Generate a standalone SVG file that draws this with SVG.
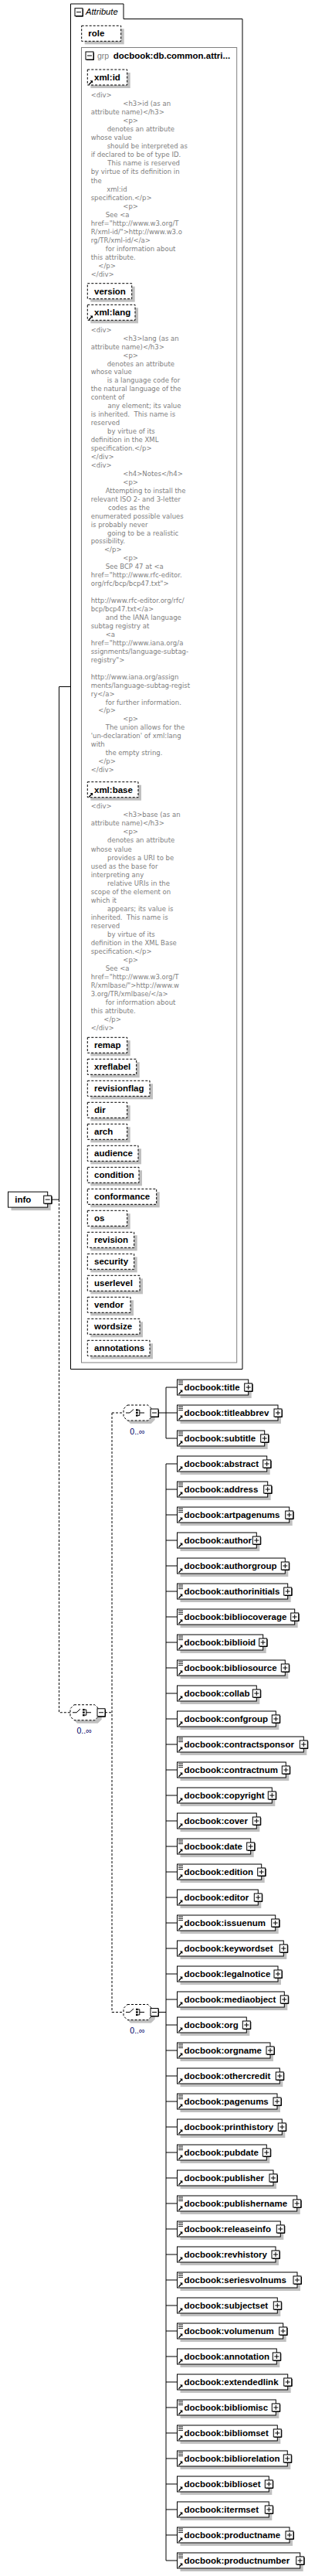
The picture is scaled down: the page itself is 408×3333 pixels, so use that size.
<svg xmlns="http://www.w3.org/2000/svg" width="408" height="3333" viewBox="0 0 408 3333">
<style>
.sh{fill:#c0c0c0}
.bx{fill:#fff;stroke:#000}
.dx{fill:#fff;stroke:#000;stroke-dasharray:3 2}
.lb{font-family:'Liberation Sans',Arial,sans-serif;font-weight:bold;font-size:11.5px;fill:#000}
.doc{font-family:'DejaVu Sans',Verdana,sans-serif;font-size:8.5px;fill:#808080}
.occ{font-family:'Liberation Sans',Arial,sans-serif;font-size:10.5px;fill:#000066}
.cn{fill:none;stroke:#000}
.cd{fill:none;stroke:#000;stroke-dasharray:3 2}
</style>
<defs>
<g id="pl"><rect x="-5" y="-5" width="10" height="10" fill="#fff" stroke="#000"/><path d="M-4,5.5H5.5V-4" fill="none" stroke="#000"/><path d="M-3,0H3M0,-3V3" stroke="#000"/></g>
<g id="mi"><rect x="-5" y="-5" width="10" height="10" fill="#fff" stroke="#000"/><path d="M-4,5.5H5.5V-4" fill="none" stroke="#000"/><path d="M-3,0H3" stroke="#000"/></g>
<path id="tx" d="M0,0.5H6M0,2.8H6M0,5.1H6" stroke="#000" stroke-width="0.9"/>
<g id="ar"><path d="M0.5,5.5L4,2" stroke="#000" stroke-width="1.3"/><path d="M2,0.3H5.5V3.8Z" fill="#000"/></g>
<g id="chc">
<polygon class="sh" points="9,4 35.7,4 40.7,9 40.7,19 35.7,24 9,24 4,19 4,9"/>
<polygon class="dx" points="5,0 31.7,0 36.7,5 36.7,15 31.7,20 5,20 0,15 0,5"/>
<path d="M3,10H8L13,5.5" fill="none" stroke="#000"/>
<rect x="16" y="5.3" width="2.7" height="2.3"/><rect x="16" y="8.8" width="2.7" height="2.3"/><rect x="16" y="12.3" width="2.7" height="2.3"/>
<path d="M18.7,6.4H20.8M18.7,13.4H20.8M20.8,6.4V13.4M20.8,10H27" fill="none" stroke="#000"/>
<use href="#mi" x="40" y="10"/>
</g>
</defs>

<g id="connectors">
<path class="cn" d="M66.2,1552.1H76.5V888.5H91.5"/>
<path class="cd" d="M76.5,1552.1V2215.75H91"/>
<path class="cd" d="M136,2215.75H145M145,1828V2603.5M145,1828H160M145,2603.5H160"/>
<path class="cn" d="M205,1828H215M215,1795V1861M215,1795H229.5M215,1828H229.5M215,1861H229.5"/>
<path class="cn" d="M205,2603.5H215M215,1894V3313M215,1894H229.5M215,1927H229.5M215,1960H229.5M215,1993H229.5M215,2026H229.5M215,2059H229.5M215,2092H229.5M215,2125H229.5M215,2158H229.5M215,2191H229.5M215,2224H229.5M215,2257H229.5M215,2290H229.5M215,2323H229.5M215,2356H229.5M215,2389H229.5M215,2422H229.5M215,2455H229.5M215,2488H229.5M215,2521H229.5M215,2554H229.5M215,2587H229.5M215,2620H229.5M215,2653H229.5M215,2686H229.5M215,2719H229.5M215,2752H229.5M215,2785H229.5M215,2818H229.5M215,2851H229.5M215,2884H229.5M215,2917H229.5M215,2950H229.5M215,2983H229.5M215,3016H229.5M215,3049H229.5M215,3082H229.5M215,3115H229.5M215,3148H229.5M215,3181H229.5M215,3214H229.5M215,3247H229.5M215,3280H229.5M215,3313H229.5"/>
</g>

<g id="info" transform="translate(10.5,1542.1)">
<rect class="sh" x="4" y="4" width="51.2" height="20"/>
<rect class="bx" width="51.2" height="20"/>
<text class="lb" x="8.8" y="14">info</text>
<use href="#mi" x="51.2" y="10"/>
</g>

<g id="attributes">
<path class="cn" d="M91.5,5H160V24.5H314V1771.5H91.5Z"/>
<use href="#mi" x="102" y="15.7"/>
<text x="111" y="19" style="font-family:'Liberation Sans',Arial,sans-serif;font-style:italic;font-size:11.2px;fill:#000">Attribute</text>
</g>

<g id="a-role" transform="translate(105.7,33.3)"><rect class="sh" x="4" y="4" width="51" height="20"/><rect class="dx" width="51" height="20"/><text class="lb" x="8.6" y="14">role</text></g>

<g id="grp">
<rect x="105.5" y="61.5" width="201.2" height="1701.5" fill="none" stroke="#808080"/>
<use href="#mi" x="116" y="72"/>
<text x="126" y="75.5" style="font-family:'Liberation Sans',Arial,sans-serif;font-size:10.5px;fill:#808080">grp</text>
<text class="lb" x="146.7" y="75.5">docbook:db.common.attri...</text>
</g>

<g id="a-xmlid" transform="translate(113.3,90)"><rect class="sh" x="4" y="4" width="51.4" height="20"/><rect class="dx" width="51.4" height="20"/><use href="#ar" x="1.3" y="14"/><text class="lb" x="8.7" y="14">xml:id</text></g>
<text id="doc-xmlid" class="doc">
<tspan x="117.7" y="125.8">&lt;div&gt;</tspan>
<tspan x="159.3" y="136.9">&lt;h3&gt;id (as an</tspan>
<tspan x="117.7" y="147.9">attribute name)&lt;/h3&gt;</tspan>
<tspan x="159.3" y="159">&lt;p&gt;</tspan>
<tspan x="138.7" y="170.1">denotes an attribute</tspan>
<tspan x="117.7" y="181.2">whose value</tspan>
<tspan x="138.7" y="192.2">should be interpreted as</tspan>
<tspan x="117.7" y="203.3">if declared to be of type ID.</tspan>
<tspan x="139.3" y="214.4">This name is reserved</tspan>
<tspan x="117.7" y="225.4">by virtue of its definition in</tspan>
<tspan x="117.7" y="236.5">the</tspan>
<tspan x="138.3" y="247.6">xml:id</tspan>
<tspan x="117.7" y="258.6">specification.&lt;/p&gt;</tspan>
<tspan x="159.3" y="269.7">&lt;p&gt;</tspan>
<tspan x="136.7" y="280.8">See &lt;a</tspan>
<tspan x="117.7" y="291.9">href="http://www.w3.org/T</tspan>
<tspan x="117.7" y="302.9">R/xml-id/"&gt;http://www.w3.o</tspan>
<tspan x="117.7" y="314">rg/TR/xml-id/&lt;/a&gt;</tspan>
<tspan x="136.7" y="325.1">for information about</tspan>
<tspan x="117.7" y="336.1">this attribute.</tspan>
<tspan x="127.3" y="347.2">&lt;/p&gt;</tspan>
<tspan x="117.7" y="358.3">&lt;/div&gt;</tspan>
</text>

<g id="a-version" transform="translate(113.3,366.7)"><rect class="sh" x="4" y="4" width="57.4" height="20"/><rect class="dx" width="57.4" height="20"/><text class="lb" x="8.7" y="14">version</text></g>
<g id="a-xmllang" transform="translate(113.3,394.3)"><rect class="sh" x="4" y="4" width="61.7" height="20"/><rect class="dx" width="61.7" height="20"/><use href="#ar" x="1.3" y="14"/><text class="lb" x="8.7" y="14">xml:lang</text></g>
<text id="doc-xmllang" class="doc">
<tspan x="117.7" y="429.7">&lt;div&gt;</tspan>
<tspan x="159.3" y="440.65">&lt;h3&gt;lang (as an</tspan>
<tspan x="117.7" y="451.6">attribute name)&lt;/h3&gt;</tspan>
<tspan x="159.3" y="462.55">&lt;p&gt;</tspan>
<tspan x="138.7" y="473.5">denotes an attribute</tspan>
<tspan x="117.7" y="484.45">whose value</tspan>
<tspan x="138.7" y="495.4">is a language code for</tspan>
<tspan x="117.7" y="506.35">the natural language of the</tspan>
<tspan x="117.7" y="517.3">content of</tspan>
<tspan x="139.5" y="528.25">any element; its value</tspan>
<tspan x="117.7" y="539.2">is inherited.&#160; This name is</tspan>
<tspan x="117.7" y="550.15">reserved</tspan>
<tspan x="139" y="561.1">by virtue of its</tspan>
<tspan x="117.7" y="572.05">definition in the XML</tspan>
<tspan x="117.7" y="583">specification.&lt;/p&gt;</tspan>
<tspan x="117.7" y="593.95">&lt;/div&gt;</tspan>
<tspan x="117.7" y="604.9">&lt;div&gt;</tspan>
<tspan x="159.3" y="615.85">&lt;h4&gt;Notes&lt;/h4&gt;</tspan>
<tspan x="159.3" y="626.8">&lt;p&gt;</tspan>
<tspan x="136.7" y="637.75">Attempting to install the</tspan>
<tspan x="117.7" y="648.7">relevant ISO 2- and 3-letter</tspan>
<tspan x="140" y="659.65">codes as the</tspan>
<tspan x="117.7" y="670.6">enumerated possible values</tspan>
<tspan x="117.7" y="681.55">is probably never</tspan>
<tspan x="139" y="692.5">going to be a realistic</tspan>
<tspan x="117.7" y="703.45">possibility.</tspan>
<tspan x="135" y="714.4">&lt;/p&gt;</tspan>
<tspan x="159.3" y="725.35">&lt;p&gt;</tspan>
<tspan x="136.7" y="736.3">See BCP 47 at &lt;a</tspan>
<tspan x="117.7" y="747.25">href="http://www.rfc-editor.</tspan>
<tspan x="117.7" y="758.2">org/rfc/bcp/bcp47.txt"&gt;</tspan>
<tspan x="117.7" y="780.1">http://www.rfc-editor.org/rfc/</tspan>
<tspan x="117.7" y="791.05">bcp/bcp47.txt&lt;/a&gt;</tspan>
<tspan x="136.7" y="802">and the IANA language</tspan>
<tspan x="117.7" y="812.95">subtag registry at</tspan>
<tspan x="136.7" y="823.9">&lt;a</tspan>
<tspan x="117.7" y="834.85">href="http://www.iana.org/a</tspan>
<tspan x="117.7" y="845.8">ssignments/language-subtag-</tspan>
<tspan x="117.7" y="856.75">registry"&gt;</tspan>
<tspan x="117.7" y="878.65">http://www.iana.org/assign</tspan>
<tspan x="117.7" y="889.6">ments/language-subtag-regist</tspan>
<tspan x="117.7" y="900.55">ry&lt;/a&gt;</tspan>
<tspan x="136.7" y="911.5">for further information.</tspan>
<tspan x="127.3" y="922.45">&lt;/p&gt;</tspan>
<tspan x="159.3" y="933.4">&lt;p&gt;</tspan>
<tspan x="136.7" y="944.35">The union allows for the</tspan>
<tspan x="117.7" y="955.3">'un-declaration' of xml:lang</tspan>
<tspan x="117.7" y="966.25">with</tspan>
<tspan x="136.7" y="977.2">the empty string.</tspan>
<tspan x="127.3" y="988.15">&lt;/p&gt;</tspan>
<tspan x="117.7" y="999.1">&lt;/div&gt;</tspan>
</text>

<g id="a-xmlbase" transform="translate(113.3,1011.7)"><rect class="sh" x="4" y="4" width="65.7" height="20"/><rect class="dx" width="65.7" height="20"/><use href="#ar" x="1.3" y="14"/><text class="lb" x="8.7" y="14">xml:base</text></g>
<text id="doc-xmlbase" class="doc">
<tspan x="117.7" y="1046.3">&lt;div&gt;</tspan>
<tspan x="159.3" y="1057.3">&lt;h3&gt;base (as an</tspan>
<tspan x="117.7" y="1068.4">attribute name)&lt;/h3&gt;</tspan>
<tspan x="159.3" y="1079.4">&lt;p&gt;</tspan>
<tspan x="139" y="1090.4">denotes an attribute</tspan>
<tspan x="117.7" y="1101.5">whose value</tspan>
<tspan x="139" y="1112.5">provides a URI to be</tspan>
<tspan x="117.7" y="1123.5">used as the base for</tspan>
<tspan x="117.7" y="1134.5">interpreting any</tspan>
<tspan x="139" y="1145.6">relative URIs in the</tspan>
<tspan x="117.7" y="1156.6">scope of the element on</tspan>
<tspan x="117.7" y="1167.6">which it</tspan>
<tspan x="139" y="1178.7">appears; its value is</tspan>
<tspan x="117.7" y="1189.7">inherited.&#160; This name is</tspan>
<tspan x="117.7" y="1200.7">reserved</tspan>
<tspan x="139" y="1211.8">by virtue of its</tspan>
<tspan x="117.7" y="1222.8">definition in the XML Base</tspan>
<tspan x="117.7" y="1233.8">specification.&lt;/p&gt;</tspan>
<tspan x="159.3" y="1244.8">&lt;p&gt;</tspan>
<tspan x="136.7" y="1255.9">See &lt;a</tspan>
<tspan x="117.7" y="1266.9">href="http://www.w3.org/T</tspan>
<tspan x="117.7" y="1277.9">R/xmlbase/"&gt;http://www.w</tspan>
<tspan x="117.7" y="1289">3.org/TR/xmlbase/&lt;/a&gt;</tspan>
<tspan x="136.7" y="1300">for information about</tspan>
<tspan x="117.7" y="1311">this attribute.</tspan>
<tspan x="134.3" y="1322.1">&lt;/p&gt;</tspan>
<tspan x="117.7" y="1333.1">&lt;/div&gt;</tspan>
</text>

<g id="a-remap" transform="translate(113.3,1342.3)"><rect class="sh" x="4" y="4" width="51.4" height="20"/><rect class="dx" width="51.4" height="20"/><text class="lb" x="8.7" y="14">remap</text></g>
<g id="a-xreflabel" transform="translate(113.3,1370.3)"><rect class="sh" x="4" y="4" width="63.4" height="20"/><rect class="dx" width="63.4" height="20"/><text class="lb" x="8.7" y="14">xreflabel</text></g>
<g id="a-revisionflag" transform="translate(113.3,1398.3)"><rect class="sh" x="4" y="4" width="80.7" height="20"/><rect class="dx" width="80.7" height="20"/><text class="lb" x="8.7" y="14">revisionflag</text></g>
<g id="a-dir" transform="translate(113.3,1426.3)"><rect class="sh" x="4" y="4" width="51.4" height="20"/><rect class="dx" width="51.4" height="20"/><text class="lb" x="8.7" y="14">dir</text></g>
<g id="a-arch" transform="translate(113.3,1454.3)"><rect class="sh" x="4" y="4" width="51.4" height="20"/><rect class="dx" width="51.4" height="20"/><text class="lb" x="8.7" y="14">arch</text></g>
<g id="a-audience" transform="translate(113.3,1482.3)"><rect class="sh" x="4" y="4" width="65.7" height="20"/><rect class="dx" width="65.7" height="20"/><text class="lb" x="8.7" y="14">audience</text></g>
<g id="a-condition" transform="translate(113.3,1510.3)"><rect class="sh" x="4" y="4" width="66.7" height="20"/><rect class="dx" width="66.7" height="20"/><text class="lb" x="8.7" y="14">condition</text></g>
<g id="a-conformance" transform="translate(113.3,1538.3)"><rect class="sh" x="4" y="4" width="89.4" height="20"/><rect class="dx" width="89.4" height="20"/><text class="lb" x="8.7" y="14">conformance</text></g>
<g id="a-os" transform="translate(113.3,1566.3)"><rect class="sh" x="4" y="4" width="51.4" height="20"/><rect class="dx" width="51.4" height="20"/><text class="lb" x="8.7" y="14">os</text></g>
<g id="a-revision" transform="translate(113.3,1594.3)"><rect class="sh" x="4" y="4" width="60.4" height="20"/><rect class="dx" width="60.4" height="20"/><text class="lb" x="8.7" y="14">revision</text></g>
<g id="a-security" transform="translate(113.3,1622.3)"><rect class="sh" x="4" y="4" width="60.4" height="20"/><rect class="dx" width="60.4" height="20"/><text class="lb" x="8.7" y="14">security</text></g>
<g id="a-userlevel" transform="translate(113.3,1650.3)"><rect class="sh" x="4" y="4" width="67.7" height="20"/><rect class="dx" width="67.7" height="20"/><text class="lb" x="8.7" y="14">userlevel</text></g>
<g id="a-vendor" transform="translate(113.3,1678.3)"><rect class="sh" x="4" y="4" width="55.7" height="20"/><rect class="dx" width="55.7" height="20"/><text class="lb" x="8.7" y="14">vendor</text></g>
<g id="a-wordsize" transform="translate(113.3,1706.3)"><rect class="sh" x="4" y="4" width="67.7" height="20"/><rect class="dx" width="67.7" height="20"/><text class="lb" x="8.7" y="14">wordsize</text></g>
<g id="a-annotations" transform="translate(113.3,1734.3)"><rect class="sh" x="4" y="4" width="80.7" height="20"/><rect class="dx" width="80.7" height="20"/><text class="lb" x="8.7" y="14">annotations</text></g>

<g id="choice-outer" transform="translate(91,2205.75)"><use href="#chc"/><text class="occ" x="8.5" y="37.5">0..∞</text></g>
<g id="choice-1" transform="translate(160,1818)"><use href="#chc"/><text class="occ" x="8.3" y="38">0..∞</text></g>
<g id="choice-2" transform="translate(160,2593.5)"><use href="#chc"/><text class="occ" x="8.3" y="37.5">0..∞</text></g>

<g id="e-title" transform="translate(229.5,1785)"><rect class="sh" x="4" y="4" width="92.2" height="20"/><rect class="bx" width="92.2" height="20"/><use href="#tx" x="1.5" y="1.5"/><use href="#ar" x="1.4" y="13.3"/><text class="lb" x="9" y="14">docbook:title</text><use href="#pl" x="92.2" y="10"/></g>
<g id="e-titleabbrev" transform="translate(229.5,1818)"><rect class="sh" x="4" y="4" width="130.5" height="20"/><rect class="bx" width="130.5" height="20"/><use href="#tx" x="1.5" y="1.5"/><use href="#ar" x="1.4" y="13.3"/><text class="lb" x="9" y="14">docbook:titleabbrev</text><use href="#pl" x="130.5" y="10"/></g>
<g id="e-subtitle" transform="translate(229.5,1851)"><rect class="sh" x="4" y="4" width="113.2" height="20"/><rect class="bx" width="113.2" height="20"/><use href="#tx" x="1.5" y="1.5"/><use href="#ar" x="1.4" y="13.3"/><text class="lb" x="9" y="14">docbook:subtitle</text><use href="#pl" x="113.2" y="10"/></g>
<g id="e-abstract" transform="translate(229.5,1884)"><rect class="sh" x="4" y="4" width="116.2" height="20"/><rect class="bx" width="116.2" height="20"/><use href="#ar" x="1.4" y="13.3"/><text class="lb" x="9" y="14">docbook:abstract</text><use href="#pl" x="116.2" y="10"/></g>
<g id="e-address" transform="translate(229.5,1917)"><rect class="sh" x="4" y="4" width="117.2" height="20"/><rect class="bx" width="117.2" height="20"/><use href="#tx" x="1.5" y="1.5"/><use href="#ar" x="1.4" y="13.3"/><text class="lb" x="9" y="14">docbook:address</text><use href="#pl" x="117.2" y="10"/></g>
<g id="e-artpagenums" transform="translate(229.5,1950)"><rect class="sh" x="4" y="4" width="145.2" height="20"/><rect class="bx" width="145.2" height="20"/><use href="#tx" x="1.5" y="1.5"/><use href="#ar" x="1.4" y="13.3"/><text class="lb" x="9" y="14">docbook:artpagenums</text><use href="#pl" x="145.2" y="10"/></g>
<g id="e-author" transform="translate(229.5,1983)"><rect class="sh" x="4" y="4" width="102.8" height="20"/><rect class="bx" width="102.8" height="20"/><use href="#ar" x="1.4" y="13.3"/><text class="lb" x="9" y="14">docbook:author</text><use href="#pl" x="102.8" y="10"/></g>
<g id="e-authorgroup" transform="translate(229.5,2016)"><rect class="sh" x="4" y="4" width="139.8" height="20"/><rect class="bx" width="139.8" height="20"/><use href="#ar" x="1.4" y="13.3"/><text class="lb" x="9" y="14">docbook:authorgroup</text><use href="#pl" x="139.8" y="10"/></g>
<g id="e-authorinitials" transform="translate(229.5,2049)"><rect class="sh" x="4" y="4" width="143.2" height="20"/><rect class="bx" width="143.2" height="20"/><use href="#tx" x="1.5" y="1.5"/><use href="#ar" x="1.4" y="13.3"/><text class="lb" x="9" y="14">docbook:authorinitials</text><use href="#pl" x="143.2" y="10"/></g>
<g id="e-bibliocoverage" transform="translate(229.5,2082)"><rect class="sh" x="4" y="4" width="152.2" height="20"/><rect class="bx" width="152.2" height="20"/><use href="#tx" x="1.5" y="1.5"/><use href="#ar" x="1.4" y="13.3"/><text class="lb" x="9" y="14">docbook:bibliocoverage</text><use href="#pl" x="152.2" y="10"/></g>
<g id="e-biblioid" transform="translate(229.5,2115)"><rect class="sh" x="4" y="4" width="111.2" height="20"/><rect class="bx" width="111.2" height="20"/><use href="#tx" x="1.5" y="1.5"/><use href="#ar" x="1.4" y="13.3"/><text class="lb" x="9" y="14">docbook:biblioid</text><use href="#pl" x="111.2" y="10"/></g>
<g id="e-bibliosource" transform="translate(229.5,2148)"><rect class="sh" x="4" y="4" width="139.8" height="20"/><rect class="bx" width="139.8" height="20"/><use href="#tx" x="1.5" y="1.5"/><use href="#ar" x="1.4" y="13.3"/><text class="lb" x="9" y="14">docbook:bibliosource</text><use href="#pl" x="139.8" y="10"/></g>
<g id="e-collab" transform="translate(229.5,2181)"><rect class="sh" x="4" y="4" width="102.8" height="20"/><rect class="bx" width="102.8" height="20"/><use href="#ar" x="1.4" y="13.3"/><text class="lb" x="9" y="14">docbook:collab</text><use href="#pl" x="102.8" y="10"/></g>
<g id="e-confgroup" transform="translate(229.5,2214)"><rect class="sh" x="4" y="4" width="127.8" height="20"/><rect class="bx" width="127.8" height="20"/><use href="#ar" x="1.4" y="13.3"/><text class="lb" x="9" y="14">docbook:confgroup</text><use href="#pl" x="127.8" y="10"/></g>
<g id="e-contractsponsor" transform="translate(229.5,2247)"><rect class="sh" x="4" y="4" width="163.8" height="20"/><rect class="bx" width="163.8" height="20"/><use href="#tx" x="1.5" y="1.5"/><use href="#ar" x="1.4" y="13.3"/><text class="lb" x="9" y="14">docbook:contractsponsor</text><use href="#pl" x="163.8" y="10"/></g>
<g id="e-contractnum" transform="translate(229.5,2280)"><rect class="sh" x="4" y="4" width="140.8" height="20"/><rect class="bx" width="140.8" height="20"/><use href="#tx" x="1.5" y="1.5"/><use href="#ar" x="1.4" y="13.3"/><text class="lb" x="9" y="14">docbook:contractnum</text><use href="#pl" x="140.8" y="10"/></g>
<g id="e-copyright" transform="translate(229.5,2313)"><rect class="sh" x="4" y="4" width="122.8" height="20"/><rect class="bx" width="122.8" height="20"/><use href="#ar" x="1.4" y="13.3"/><text class="lb" x="9" y="14">docbook:copyright</text><use href="#pl" x="122.8" y="10"/></g>
<g id="e-cover" transform="translate(229.5,2346)"><rect class="sh" x="4" y="4" width="102.8" height="20"/><rect class="bx" width="102.8" height="20"/><use href="#ar" x="1.4" y="13.3"/><text class="lb" x="9" y="14">docbook:cover</text><use href="#pl" x="102.8" y="10"/></g>
<g id="e-date" transform="translate(229.5,2379)"><rect class="sh" x="4" y="4" width="95.2" height="20"/><rect class="bx" width="95.2" height="20"/><use href="#tx" x="1.5" y="1.5"/><use href="#ar" x="1.4" y="13.3"/><text class="lb" x="9" y="14">docbook:date</text><use href="#pl" x="95.2" y="10"/></g>
<g id="e-edition" transform="translate(229.5,2412)"><rect class="sh" x="4" y="4" width="109.2" height="20"/><rect class="bx" width="109.2" height="20"/><use href="#tx" x="1.5" y="1.5"/><use href="#ar" x="1.4" y="13.3"/><text class="lb" x="9" y="14">docbook:edition</text><use href="#pl" x="109.2" y="10"/></g>
<g id="e-editor" transform="translate(229.5,2445)"><rect class="sh" x="4" y="4" width="104.8" height="20"/><rect class="bx" width="104.8" height="20"/><use href="#ar" x="1.4" y="13.3"/><text class="lb" x="9" y="14">docbook:editor</text><use href="#pl" x="104.8" y="10"/></g>
<g id="e-issuenum" transform="translate(229.5,2478)"><rect class="sh" x="4" y="4" width="127.2" height="20"/><rect class="bx" width="127.2" height="20"/><use href="#tx" x="1.5" y="1.5"/><use href="#ar" x="1.4" y="13.3"/><text class="lb" x="9" y="14">docbook:issuenum</text><use href="#pl" x="127.2" y="10"/></g>
<g id="e-keywordset" transform="translate(229.5,2511)"><rect class="sh" x="4" y="4" width="137.8" height="20"/><rect class="bx" width="137.8" height="20"/><use href="#ar" x="1.4" y="13.3"/><text class="lb" x="9" y="14">docbook:keywordset</text><use href="#pl" x="137.8" y="10"/></g>
<g id="e-legalnotice" transform="translate(229.5,2544)"><rect class="sh" x="4" y="4" width="130.5" height="20"/><rect class="bx" width="130.5" height="20"/><use href="#ar" x="1.4" y="13.3"/><text class="lb" x="9" y="14">docbook:legalnotice</text><use href="#pl" x="130.5" y="10"/></g>
<g id="e-mediaobject" transform="translate(229.5,2577)"><rect class="sh" x="4" y="4" width="138.8" height="20"/><rect class="bx" width="138.8" height="20"/><use href="#ar" x="1.4" y="13.3"/><text class="lb" x="9" y="14">docbook:mediaobject</text><use href="#pl" x="138.8" y="10"/></g>
<g id="e-org" transform="translate(229.5,2610)"><rect class="sh" x="4" y="4" width="89.8" height="20"/><rect class="bx" width="89.8" height="20"/><use href="#ar" x="1.4" y="13.3"/><text class="lb" x="9" y="14">docbook:org</text><use href="#pl" x="89.8" y="10"/></g>
<g id="e-orgname" transform="translate(229.5,2643)"><rect class="sh" x="4" y="4" width="120.5" height="20"/><rect class="bx" width="120.5" height="20"/><use href="#tx" x="1.5" y="1.5"/><use href="#ar" x="1.4" y="13.3"/><text class="lb" x="9" y="14">docbook:orgname</text><use href="#pl" x="120.5" y="10"/></g>
<g id="e-othercredit" transform="translate(229.5,2676)"><rect class="sh" x="4" y="4" width="132.8" height="20"/><rect class="bx" width="132.8" height="20"/><use href="#ar" x="1.4" y="13.3"/><text class="lb" x="9" y="14">docbook:othercredit</text><use href="#pl" x="132.8" y="10"/></g>
<g id="e-pagenums" transform="translate(229.5,2709)"><rect class="sh" x="4" y="4" width="129.5" height="20"/><rect class="bx" width="129.5" height="20"/><use href="#tx" x="1.5" y="1.5"/><use href="#ar" x="1.4" y="13.3"/><text class="lb" x="9" y="14">docbook:pagenums</text><use href="#pl" x="129.5" y="10"/></g>
<g id="e-printhistory" transform="translate(229.5,2742)"><rect class="sh" x="4" y="4" width="135.8" height="20"/><rect class="bx" width="135.8" height="20"/><use href="#ar" x="1.4" y="13.3"/><text class="lb" x="9" y="14">docbook:printhistory</text><use href="#pl" x="135.8" y="10"/></g>
<g id="e-pubdate" transform="translate(229.5,2775)"><rect class="sh" x="4" y="4" width="115.8" height="20"/><rect class="bx" width="115.8" height="20"/><use href="#tx" x="1.5" y="1.5"/><use href="#ar" x="1.4" y="13.3"/><text class="lb" x="9" y="14">docbook:pubdate</text><use href="#pl" x="115.8" y="10"/></g>
<g id="e-publisher" transform="translate(229.5,2808)"><rect class="sh" x="4" y="4" width="124.5" height="20"/><rect class="bx" width="124.5" height="20"/><use href="#ar" x="1.4" y="13.3"/><text class="lb" x="9" y="14">docbook:publisher</text><use href="#pl" x="124.5" y="10"/></g>
<g id="e-publishername" transform="translate(229.5,2841)"><rect class="sh" x="4" y="4" width="155.2" height="20"/><rect class="bx" width="155.2" height="20"/><use href="#tx" x="1.5" y="1.5"/><use href="#ar" x="1.4" y="13.3"/><text class="lb" x="9" y="14">docbook:publishername</text><use href="#pl" x="155.2" y="10"/></g>
<g id="e-releaseinfo" transform="translate(229.5,2874)"><rect class="sh" x="4" y="4" width="133.8" height="20"/><rect class="bx" width="133.8" height="20"/><use href="#tx" x="1.5" y="1.5"/><use href="#ar" x="1.4" y="13.3"/><text class="lb" x="9" y="14">docbook:releaseinfo</text><use href="#pl" x="133.8" y="10"/></g>
<g id="e-revhistory" transform="translate(229.5,2907)"><rect class="sh" x="4" y="4" width="127.5" height="20"/><rect class="bx" width="127.5" height="20"/><use href="#ar" x="1.4" y="13.3"/><text class="lb" x="9" y="14">docbook:revhistory</text><use href="#pl" x="127.5" y="10"/></g>
<g id="e-seriesvolnums" transform="translate(229.5,2940)"><rect class="sh" x="4" y="4" width="155.5" height="20"/><rect class="bx" width="155.5" height="20"/><use href="#tx" x="1.5" y="1.5"/><use href="#ar" x="1.4" y="13.3"/><text class="lb" x="9" y="14">docbook:seriesvolnums</text><use href="#pl" x="155.5" y="10"/></g>
<g id="e-subjectset" transform="translate(229.5,2973)"><rect class="sh" x="4" y="4" width="129.8" height="20"/><rect class="bx" width="129.8" height="20"/><use href="#ar" x="1.4" y="13.3"/><text class="lb" x="9" y="14">docbook:subjectset</text><use href="#pl" x="129.8" y="10"/></g>
<g id="e-volumenum" transform="translate(229.5,3006)"><rect class="sh" x="4" y="4" width="137.2" height="20"/><rect class="bx" width="137.2" height="20"/><use href="#tx" x="1.5" y="1.5"/><use href="#ar" x="1.4" y="13.3"/><text class="lb" x="9" y="14">docbook:volumenum</text><use href="#pl" x="137.2" y="10"/></g>
<g id="e-annotation" transform="translate(229.5,3039)"><rect class="sh" x="4" y="4" width="128.8" height="20"/><rect class="bx" width="128.8" height="20"/><use href="#ar" x="1.4" y="13.3"/><text class="lb" x="9" y="14">docbook:annotation</text><use href="#pl" x="128.8" y="10"/></g>
<g id="e-extendedlink" transform="translate(229.5,3072)"><rect class="sh" x="4" y="4" width="143.2" height="20"/><rect class="bx" width="143.2" height="20"/><use href="#ar" x="1.4" y="13.3"/><text class="lb" x="9" y="14">docbook:extendedlink</text><use href="#pl" x="143.2" y="10"/></g>
<g id="e-bibliomisc" transform="translate(229.5,3105)"><rect class="sh" x="4" y="4" width="127.8" height="20"/><rect class="bx" width="127.8" height="20"/><use href="#tx" x="1.5" y="1.5"/><use href="#ar" x="1.4" y="13.3"/><text class="lb" x="9" y="14">docbook:bibliomisc</text><use href="#pl" x="127.8" y="10"/></g>
<g id="e-bibliomset" transform="translate(229.5,3138)"><rect class="sh" x="4" y="4" width="129.8" height="20"/><rect class="bx" width="129.8" height="20"/><use href="#tx" x="1.5" y="1.5"/><use href="#ar" x="1.4" y="13.3"/><text class="lb" x="9" y="14">docbook:bibliomset</text><use href="#pl" x="129.8" y="10"/></g>
<g id="e-bibliorelation" transform="translate(229.5,3171)"><rect class="sh" x="4" y="4" width="142.8" height="20"/><rect class="bx" width="142.8" height="20"/><use href="#tx" x="1.5" y="1.5"/><use href="#ar" x="1.4" y="13.3"/><text class="lb" x="9" y="14">docbook:bibliorelation</text><use href="#pl" x="142.8" y="10"/></g>
<g id="e-biblioset" transform="translate(229.5,3204)"><rect class="sh" x="4" y="4" width="118.8" height="20"/><rect class="bx" width="118.8" height="20"/><use href="#ar" x="1.4" y="13.3"/><text class="lb" x="9" y="14">docbook:biblioset</text><use href="#pl" x="118.8" y="10"/></g>
<g id="e-itermset" transform="translate(229.5,3237)"><rect class="sh" x="4" y="4" width="118.8" height="20"/><rect class="bx" width="118.8" height="20"/><use href="#ar" x="1.4" y="13.3"/><text class="lb" x="9" y="14">docbook:itermset</text><use href="#pl" x="118.8" y="10"/></g>
<g id="e-productname" transform="translate(229.5,3270)"><rect class="sh" x="4" y="4" width="145.5" height="20"/><rect class="bx" width="145.5" height="20"/><use href="#tx" x="1.5" y="1.5"/><use href="#ar" x="1.4" y="13.3"/><text class="lb" x="9" y="14">docbook:productname</text><use href="#pl" x="145.5" y="10"/></g>
<g id="e-productnumber" transform="translate(229.5,3303)"><rect class="sh" x="4" y="4" width="159.2" height="20"/><rect class="bx" width="159.2" height="20"/><use href="#tx" x="1.5" y="1.5"/><use href="#ar" x="1.4" y="13.3"/><text class="lb" x="9" y="14">docbook:productnumber</text><use href="#pl" x="159.2" y="10"/></g>
</svg>
